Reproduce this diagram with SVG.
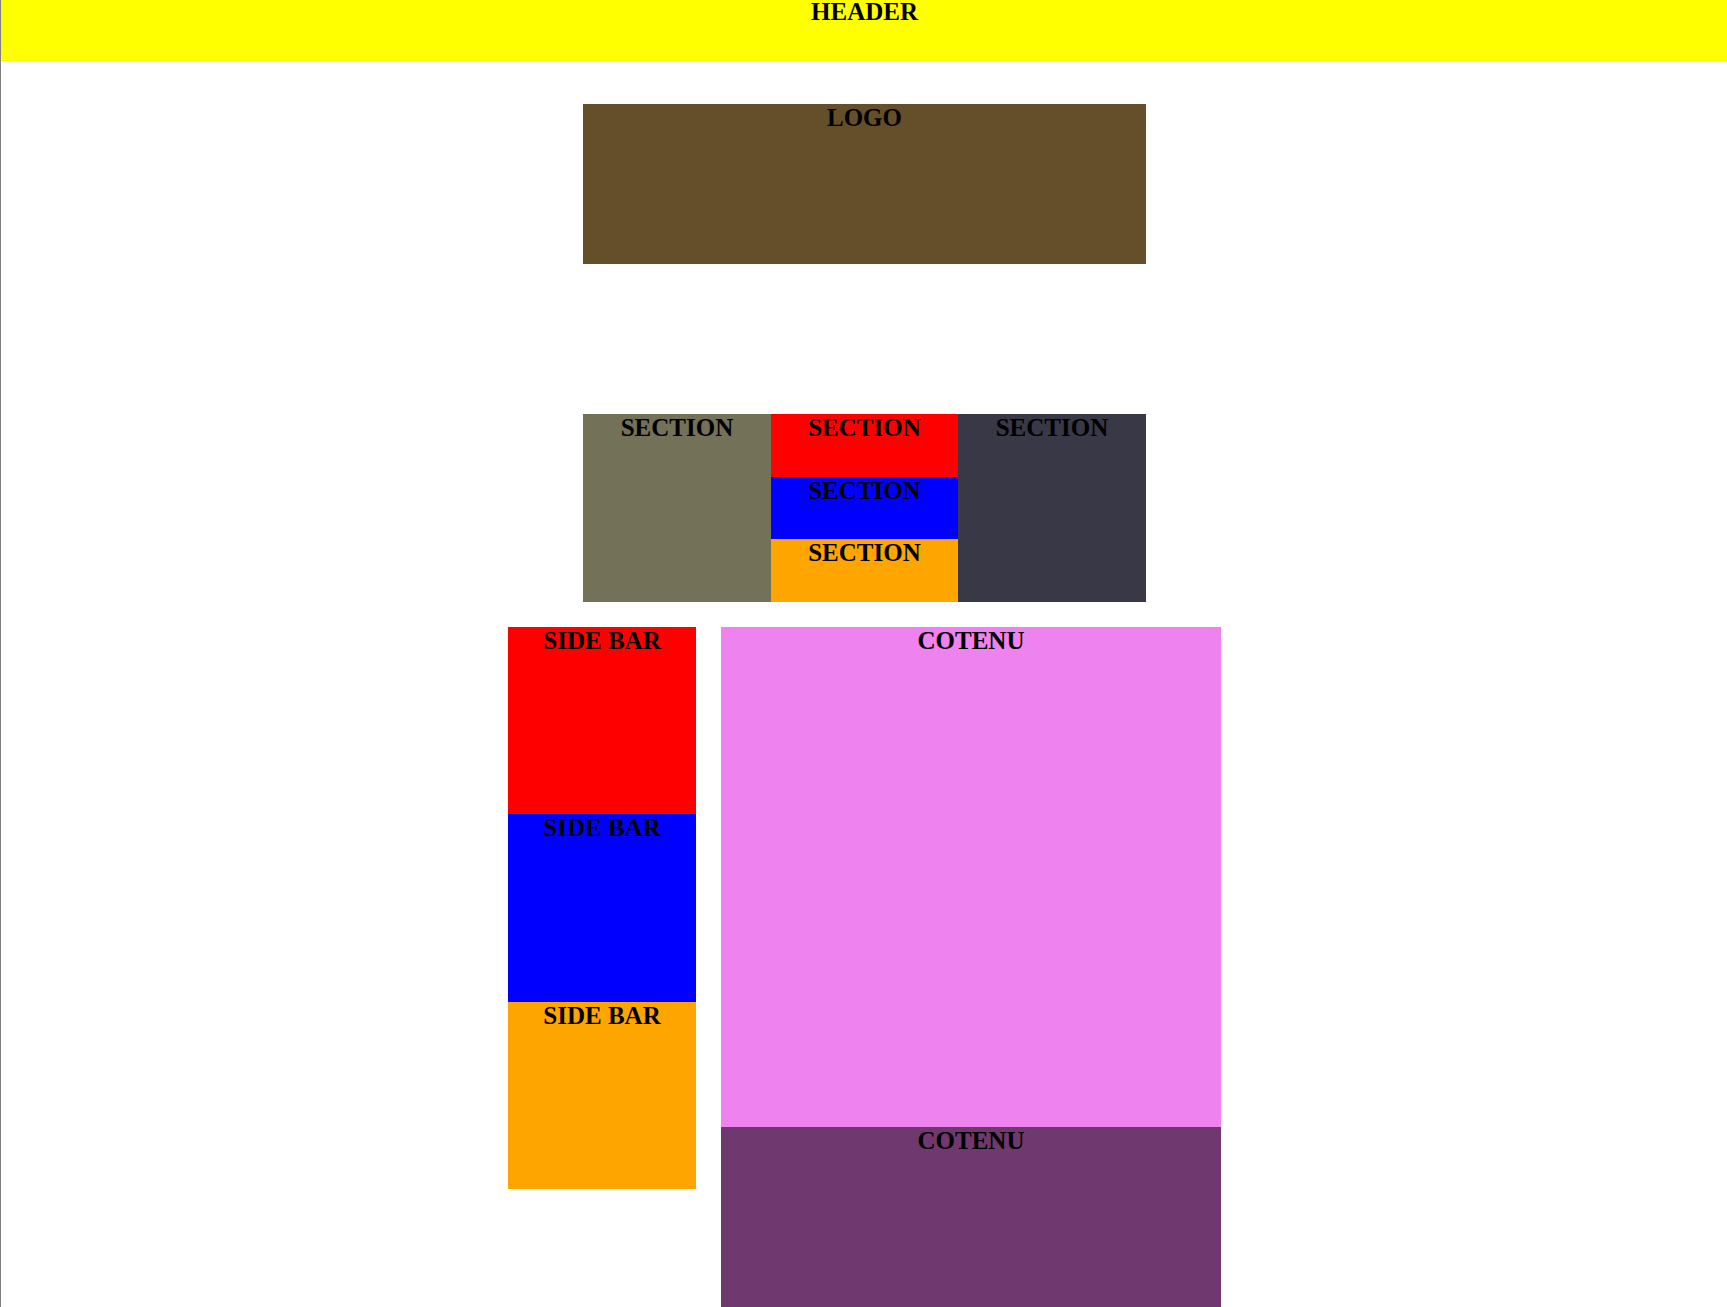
<svg xmlns="http://www.w3.org/2000/svg" width="1727" height="1307" viewBox="0 0 1727 1307">
<style>
text{font-family:"Liberation Serif","Times New Roman",serif;font-weight:bold;font-size:25px;fill:#000;text-anchor:middle}
</style>
<rect x="0" y="0" width="1727" height="1307" fill="#fff"/>
<rect x="0" y="0" width="1" height="1307" fill="#808080"/>
<g id="header"><rect x="1" y="0" width="1726" height="61" fill="#ffff00"/><text x="864.5" y="20">HEADER</text></g>
<g id="logo"><rect x="583" y="104" width="563" height="160" fill="#654f2a"/><text x="864.5" y="125.5">LOGO</text></g>
<g id="section1"><rect x="583" y="414" width="188" height="188" fill="#737158"/><text x="677" y="435.5">SECTION</text></g>
<g id="section2"><rect x="771" y="414" width="187" height="63" fill="#ff0000"/><text x="864.5" y="435.5">SECTION</text></g>
<g id="section3"><rect x="771" y="477" width="187" height="62" fill="#0000ff"/><text x="864.5" y="498.5">SECTION</text></g>
<g id="section4"><rect x="771" y="539" width="187" height="63" fill="#ffa500"/><text x="864.5" y="560.5">SECTION</text></g>
<g id="section5"><rect x="958" y="414" width="188" height="188" fill="#393846"/><text x="1052" y="435.5">SECTION</text></g>
<g id="sidebar1"><rect x="508" y="627" width="188" height="187" fill="#ff0000"/><text x="602" y="648.5">SIDE BAR</text></g>
<g id="sidebar2"><rect x="508" y="814" width="188" height="188" fill="#0000ff"/><text x="602" y="835.5">SIDE BAR</text></g>
<g id="sidebar3"><rect x="508" y="1002" width="188" height="187" fill="#ffa500"/><text x="602" y="1023.5">SIDE BAR</text></g>
<g id="contenu1"><rect x="721" y="627" width="500" height="500" fill="#ee82ee"/><text x="971" y="648.5">COTENU</text></g>
<g id="contenu2"><rect x="721" y="1127" width="500" height="180" fill="#6f386f"/><text x="971" y="1148.5">COTENU</text></g>
<g id="connectors"/>
</svg>
